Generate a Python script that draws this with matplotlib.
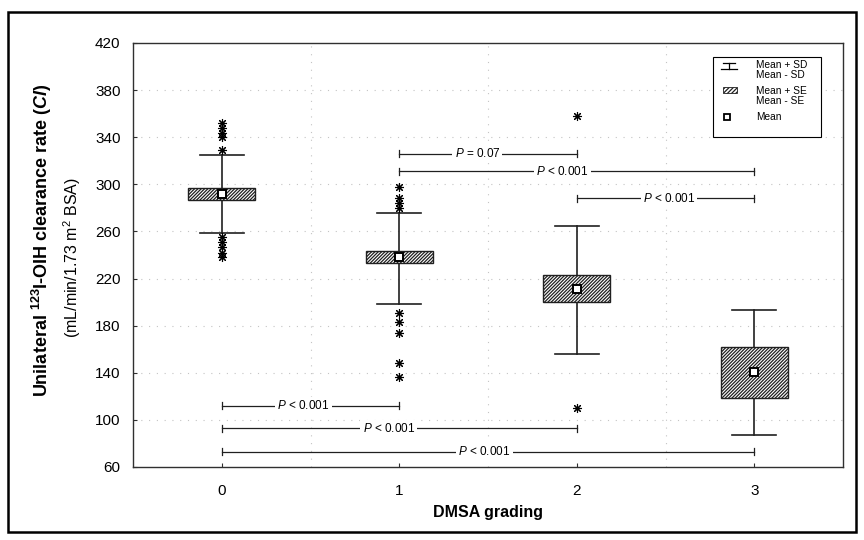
import numpy as np
import matplotlib
matplotlib.use("Agg")
import matplotlib.pyplot as plt
from matplotlib.patches import Rectangle
from matplotlib.lines import Line2D

plt.rcParams['font.family'] = ['Liberation Sans', 'DejaVu Sans']
plt.rcParams['mathtext.fontset'] = 'custom'
plt.rcParams['mathtext.rm'] = 'Liberation Sans'
plt.rcParams['mathtext.it'] = 'Liberation Sans:italic'
plt.rcParams['mathtext.bf'] = 'Liberation Sans:bold'
plt.rcParams['mathtext.bfit'] = 'Liberation Sans:italic:bold'
plt.rcParams['hatch.linewidth'] = 0.9

# data
grades = [0, 1, 2, 3]
means = [292, 238, 211, 141]
se_hi = [297, 243, 223, 162]
se_lo = [287, 233, 200, 119]
sd_hi = [325, 276, 265, 193]
sd_lo = [259, 198, 156, 87]

outliers_0 = [352, 348, 344, 340, 329, 255, 251, 247, 242, 238]
outliers_1 = [298, 288, 284, 280, 191, 183, 174, 148, 136]
outliers_2 = [358, 110]
outliers_3 = []

pairs = [(0, 1), (0, 2), (0, 3), (1, 2), (1, 3), (2, 3)]
p_labels = ["$P$ < 0.001", "$P$ < 0.001", "$P$ < 0.001",
            "$P$ = 0.07", "$P$ < 0.001", "$P$ < 0.001"]
bracket_y = [112, 93, 73, 326, 311, 288]
label_x = [0.46, 0.94, 1.48, 1.44, 1.92, 2.52]

yticks = [60, 100, 140, 180, 220, 260, 300, 340, 380, 420]

fig = plt.figure(figsize=(8.64, 5.4), dpi=100)
ax = fig.add_axes([133/864, 1-467/540, 710/864, 424/540])

# outer frame
fig.patches.append(Rectangle((8/864, 1-532/540), 848/864, 520/540,
                             transform=fig.transFigure, fill=False,
                             edgecolor='black', linewidth=1.8))

ax.set_xlim(-0.5, 3.5)
ax.set_ylim(60, 420)
ax.set_yticks(yticks)
ax.set_xticks(grades)

# sparse dotted grid
for y in yticks[1:-1]:
    ax.axhline(y, color='#c4c4c4', lw=0.8, ls=(0, (1, 6)), zorder=0)
for x in [0.5, 1.5, 2.5]:
    ax.axvline(x, color='#c4c4c4', lw=0.8, ls=(0, (1, 6)), zorder=0)

box_w = 0.38
cap_w = 0.25
for g, m, sh, sl, dh, dl in zip(grades, means, se_hi, se_lo, sd_hi, sd_lo):
    ax.plot([g, g], [dl, dh], color='#202020', lw=1.2, zorder=2)
    ax.plot([g - cap_w/2, g + cap_w/2], [dh, dh], color='#202020', lw=1.2, zorder=2)
    ax.plot([g - cap_w/2, g + cap_w/2], [dl, dl], color='#202020', lw=1.2, zorder=2)
    ax.add_patch(Rectangle((g - box_w/2, sl), box_w, sh - sl, facecolor='white',
                           edgecolor='#202020', hatch='//////////', lw=1.0, zorder=3))
    ax.plot(g, m, marker='s', ms=6, mfc='white', mec='black', mew=1.4, zorder=4)

for g, outs in zip(grades, [outliers_0, outliers_1, outliers_2, outliers_3]):
    if outs:
        ax.plot([g]*len(outs), outs, ls='none', marker=(8, 2, 0), ms=6.5,
                color='black', mew=0.8, zorder=4)

d = 3
for (a, b), lab, y, tx in zip(pairs, p_labels, bracket_y, label_x):
    ax.plot([a, b], [y, y], color='#202020', lw=0.9, zorder=2)
    ax.plot([a, a], [y - d, y + d], color='#202020', lw=0.9, zorder=2)
    ax.plot([b, b], [y - d, y + d], color='#202020', lw=0.9, zorder=2)
    ax.text(tx, y, lab, ha='center', va='center', fontsize=8.5, zorder=3,
            bbox=dict(facecolor='white', edgecolor='none', pad=1.5))

# legend drawn by hand
def fx(px):
    return (px - 133) / 710

def fy(py):
    return 1 - (py - 43) / 424

T = ax.transAxes
ax.add_patch(Rectangle((fx(713), fy(137)), fx(821) - fx(713), fy(57) - fy(137),
                       transform=T, facecolor='white', edgecolor='black', lw=0.8, zorder=5))
ax.add_line(Line2D([fx(723), fx(735)], [fy(62.7)]*2, transform=T, color='black', lw=0.9, zorder=6))
ax.add_line(Line2D([fx(720.5), fx(737)], [fy(69.3)]*2, transform=T, color='black', lw=0.9, zorder=6))
ax.add_line(Line2D([fx(729), fx(729)], [fy(62.7), fy(69.3)], transform=T, color='black', lw=0.9, zorder=6))
ax.add_patch(Rectangle((fx(723), fy(93)), fx(737) - fx(723), fy(86.5) - fy(93), transform=T,
                       facecolor='white', edgecolor='#202020', hatch='////////', lw=0.6, zorder=6))
ax.add_line(Line2D([fx(727)], [fy(117)], transform=T, marker='s', ms=5, mfc='white',
                   mec='black', mew=1.3, zorder=6))
for txt, py in zip(["Mean + SD", "Mean - SD", "Mean + SE", "Mean - SE", "Mean"],
                   [65, 74.5, 91, 100.5, 117]):
    ax.text(fx(756), fy(py), txt, transform=T, ha='left', va='center', fontsize=7.3, zorder=6)

for s in ax.spines.values():
    s.set_color('#303030')
    s.set_linewidth(1.0)
ax.tick_params(axis='both', direction='in', length=3, labelsize=11, color='#303030')
ax.tick_params(axis='y', pad=9)
ax.tick_params(axis='x', pad=12)

ax.set_xlabel("DMSA grading", fontsize=11.5, fontweight='bold', labelpad=5)
fig.text(42/864, 1 - 240/540, r"Unilateral $^{\mathbf{123}}$I-OIH clearance rate ($\mathbfit{Cl}$)",
         rotation=90, ha='center', va='center', fontsize=13, fontweight='bold')
fig.text(72/864, 1 - 258/540, r"(mL/min/1.73 m$^{2}$ BSA)",
         rotation=90, ha='center', va='center', fontsize=11.5)

fig.savefig("out.png", dpi=100)
